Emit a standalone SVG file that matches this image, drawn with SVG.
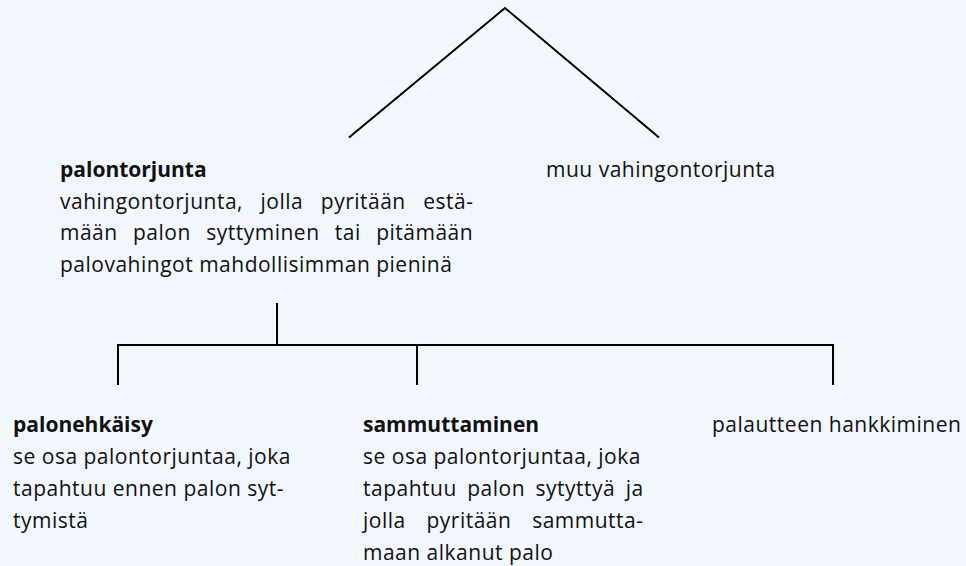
<svg xmlns="http://www.w3.org/2000/svg" width="966" height="566" viewBox="0 0 966 566">
<style>
.t{font-family:"Open Sans","Noto Sans","DejaVu Sans",sans-serif;font-size:21px;letter-spacing:0.5px;fill:#111}
.b{font-weight:bold;letter-spacing:0}
.c{stroke:#000;stroke-width:2;fill:none}
</style>
<rect width="966" height="566" fill="#f2f7fd"/>
<g id="connectors">
<polyline class="c" points="349,137.5 505,8 659,137.5"/>
<line class="c" x1="277" y1="303" x2="277" y2="345"/>
<line class="c" x1="117" y1="345" x2="834" y2="345" stroke-width="2.6"/>
<line class="c" x1="118" y1="345" x2="118" y2="385"/>
<line class="c" x1="417" y1="345" x2="417" y2="385"/>
<line class="c" x1="833" y1="345" x2="833" y2="385"/>
</g>
<g id="palontorjunta">
<text class="t b" x="60" y="177">palontorjunta</text>
<text class="t" x="60" y="208.5" word-spacing="11.6">vahingontorjunta, jolla pyritään estä-</text>
<text class="t" x="60" y="240" word-spacing="9.4">mään palon syttyminen tai pitämään</text>
<text class="t" x="60" y="271.5">palovahingot mahdollisimman pieninä</text>
</g>
<g id="muu">
<text class="t" x="546" y="177">muu vahingontorjunta</text>
</g>
<g id="palonehkaisy">
<text class="t b" x="13" y="432">palonehkäisy</text>
<text class="t" x="13" y="464">se osa palontorjuntaa, joka</text>
<text class="t" x="13" y="496">tapahtuu ennen palon syt-</text>
<text class="t" x="13" y="528">tymistä</text>
</g>
<g id="sammuttaminen">
<text class="t b" x="363" y="432">sammuttaminen</text>
<text class="t" x="363" y="464">se osa palontorjuntaa, joka</text>
<text class="t" x="363" y="496" word-spacing="4.5">tapahtuu palon sytyttyä ja</text>
<text class="t" x="363" y="528" word-spacing="14.8">jolla pyritään sammutta-</text>
<text class="t" x="363" y="560">maan alkanut palo</text>
</g>
<g id="palautteen">
<text class="t" x="712" y="432">palautteen hankkiminen</text>
</g>
</svg>
